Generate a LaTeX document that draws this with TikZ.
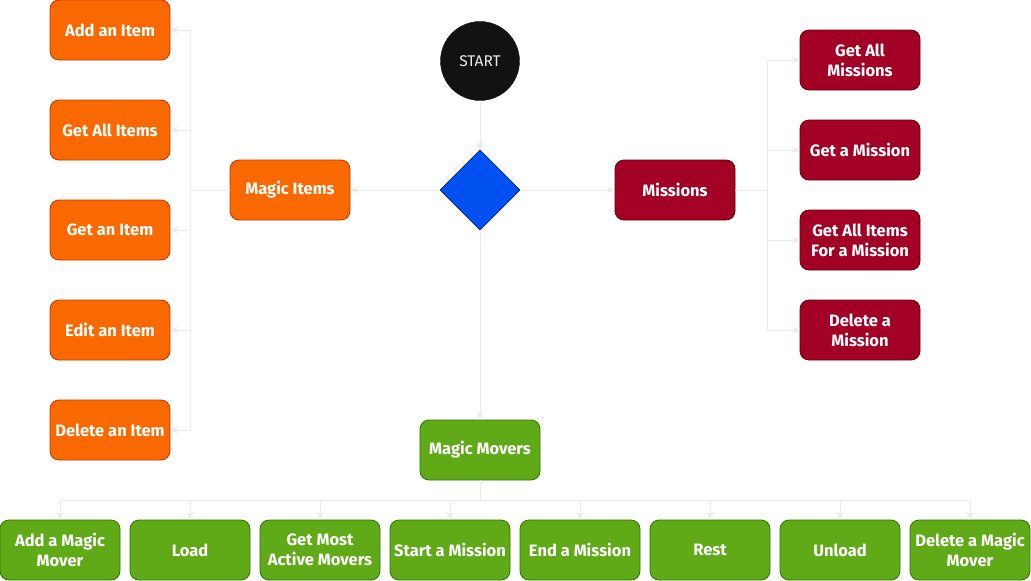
\documentclass[tikz,border=0pt]{standalone}
\usepackage{fontspec}
\setmainfont{Fira Sans}
\usetikzlibrary{arrows.meta,shapes.geometric}
\definecolor{orfill}{HTML}{FA6800}
\definecolor{orline}{HTML}{C73500}
\definecolor{mafill}{HTML}{A20025}
\definecolor{maline}{HTML}{6F0000}
\definecolor{grfill}{HTML}{60A917}
\definecolor{grline}{HTML}{2D7600}
\definecolor{blfill}{HTML}{0050EF}
\definecolor{blline}{HTML}{001DBC}
\definecolor{connc}{HTML}{EBEBEB}
\tikzset{
  box/.style={rectangle, rounded corners=9pt, minimum width=120pt, minimum height=60pt, inner sep=1pt, align=center, text=white, font=\fontsize{16.5}{20}\selectfont\bfseries, line width=0.8pt},
  obox/.style={box, fill=orfill, draw=orline},
  mbox/.style={box, fill=mafill, draw=maline},
  gbox/.style={box, fill=grfill, draw=grline},
  conn/.style={draw=connc, line width=1pt, -{Stealth[length=8pt,width=7pt]}},
  plain/.style={draw=connc, line width=1pt}
}
\begin{document}
\begin{tikzpicture}[x=1pt,y=-1pt]
\useasboundingbox (0,0) rectangle (1031,581);
% central
\node[circle, fill=black!93, draw=black!93, minimum size=79pt, inner sep=0pt, text=white!92!black, font=\fontsize{15.5}{18}\selectfont] (start) at (480,61) {START};
\node[diamond, fill=blfill, draw=blline, minimum width=80pt, minimum height=80pt, inner sep=0pt, line width=0.8pt] (dia) at (480,190) {};
\node[obox] (mi) at (290,190) {Magic Items};
\node[mbox] (mis) at (675,190) {Missions};
\node[gbox] (mm) at (480,450) {Magic Movers};
% left column
\node[obox] (i1) at (110,30) {Add an Item};
\node[obox] (i2) at (110,130) {Get All Items};
\node[obox] (i3) at (110,230) {Get an Item};
\node[obox] (i4) at (110,330) {Edit an Item};
\node[obox] (i5) at (110,430) {Delete an Item};
% right column
\node[mbox] (m1) at (860,60) {Get All\\Missions};
\node[mbox] (m2) at (860,150) {Get a Mission};
\node[mbox] (m3) at (860,240) {Get All Items\\For a Mission};
\node[mbox] (m4) at (860,330) {Delete a\\Mission};
% bottom row
\node[gbox] (b1) at (60,550) {Add a Magic\\Mover};
\node[gbox] (b2) at (190,550) {Load};
\node[gbox] (b3) at (320,550) {Get Most\\Active Movers};
\node[gbox] (b4) at (450,550) {Start a Mission};
\node[gbox] (b5) at (580,550) {End a Mission};
\node[gbox] (b6) at (710,550) {Rest};
\node[gbox] (b7) at (840,550) {Unload};
\node[gbox] (b8) at (970,550) {Delete a Magic\\Mover};
% junctions
\coordinate (lj) at (190,190);
\coordinate (rj) at (767,190);
\coordinate (bj) at (480,500);
% connectors
\draw[conn] (start) -- (dia);
\draw[conn] (dia) -- (mi);
\draw[conn] (dia) -- (mis);
\draw[conn] (dia) -- (mm);
\draw[plain] (mi.west) -- (lj);
\foreach \n in {i1,i2,i3,i4,i5} \draw[conn] (lj) |- (\n.east);
\draw[plain] (mis.east) -- (rj);
\foreach \n in {m1,m2,m3,m4} \draw[conn] (rj) |- (\n.west);
\draw[plain] (mm.south) -- (bj);
\foreach \n in {b1,b2,b3,b4,b5,b6,b7,b8} \draw[conn] (bj) -| (\n.north);
\end{tikzpicture}
\end{document}
